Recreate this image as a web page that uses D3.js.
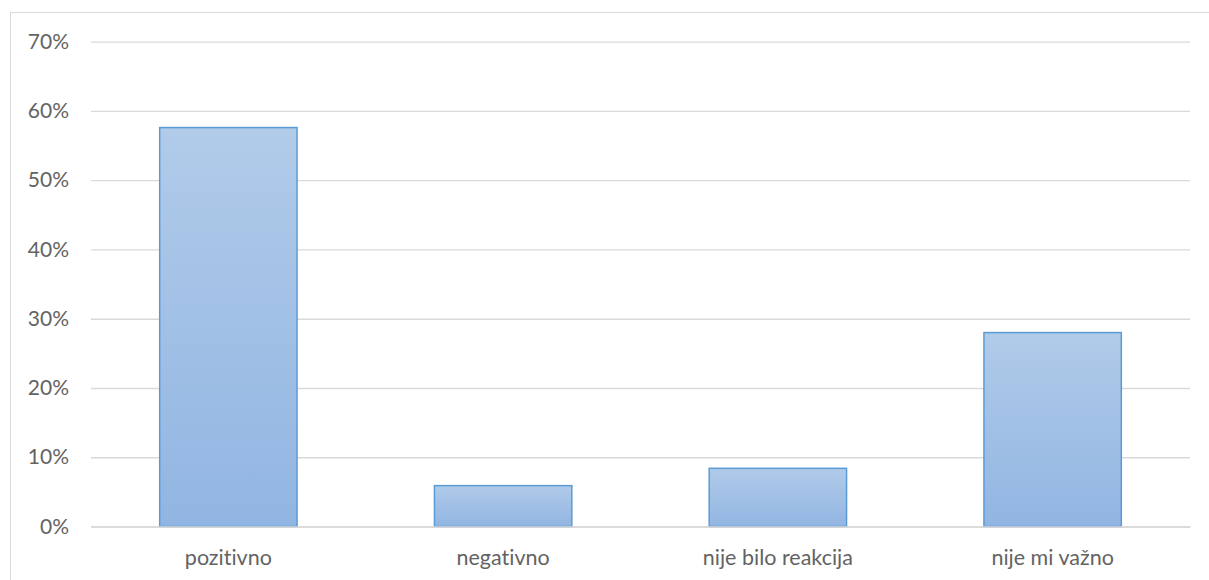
<!DOCTYPE html>
<html><head><meta charset="utf-8">
<script src="https://cdn.jsdelivr.net/npm/d3@7"></script>
<style>body{margin:0;background:#fff;}svg{display:block;font-family:Lato,"Open Sans",sans-serif;font-variant-ligatures:none;font-feature-settings:"liga" 0;}</style>
</head><body>
<svg id="c" width="1209" height="580"></svg>
<script>
const categories = ["pozitivno", "negativno", "nije bilo reakcija", "nije mi važno"];
const values = [0.576, 0.059, 0.084, 0.28];
const yTicks = [0, 0.1, 0.2, 0.3, 0.4, 0.5, 0.6, 0.7];

(function () {
const svg = d3.select("#c");
const W = 1209, H = 580;
const mLeft = 91, mRight = 1190, mTop = 41.7, mBottom = 526.5;

svg.append("rect").attr("x", 10.5).attr("y", 12.5).attr("width", W).attr("height", H)
  .attr("fill", "#fff").attr("stroke", "#d9d9d9").attr("stroke-width", 1);

const defs = svg.append("defs");
const g = defs.append("linearGradient").attr("id", "bg").attr("x1", 0).attr("y1", 0).attr("x2", 0).attr("y2", 1);
g.append("stop").attr("offset", "0%").attr("stop-color", "#b1cbe9");
g.append("stop").attr("offset", "100%").attr("stop-color", "#91b5e2");

const x = d3.scaleBand().domain(categories).range([mLeft, mRight]).paddingInner(0.5).paddingOuter(0.25);
const y = d3.scaleLinear().domain([0, 0.7]).range([mBottom, mTop]);

const yAxis = d3.axisLeft(y).tickValues(yTicks).tickFormat(d3.format(".0%")).tickSize(-(mRight - mLeft)).tickPadding(22);
const ya = svg.append("g").attr("transform", `translate(${mLeft},0)`).call(yAxis);
ya.select(".domain").remove();
ya.selectAll(".tick line").attr("stroke", "#d9d9d9").attr("stroke-width", 1.3);
ya.selectAll(".tick text").attr("fill", "#636363").style("font-size", "21px").style("font-family", "Lato, sans-serif");

svg.append("g").selectAll("rect").data(categories).join("rect")
  .attr("x", d => x(d))
  .attr("y", (d, i) => y(values[i]))
  .attr("width", x.bandwidth())
  .attr("height", (d, i) => y(0) - y(values[i]))
  .attr("fill", "url(#bg)")
  .attr("stroke", "#5b9bd5").attr("stroke-width", 1.5);

const xAxis = d3.axisBottom(x).tickSize(0).tickPadding(23);
const xa = svg.append("g").attr("transform", `translate(0,${mBottom})`).call(xAxis);
xa.select(".domain").attr("stroke", "#d9d9d9").attr("stroke-width", 1.3);
xa.selectAll(".tick text").attr("fill", "#636363").style("font-size", "21.5px").style("font-family", "Lato, sans-serif");
})();
</script>
</body></html>
